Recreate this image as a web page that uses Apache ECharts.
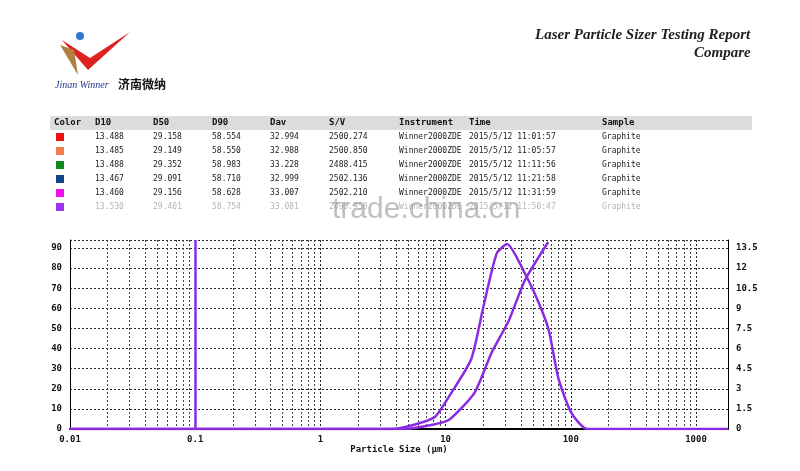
<!DOCTYPE html>
<html><head><meta charset="utf-8">
<script src="https://cdn.jsdelivr.net/npm/echarts@6/dist/echarts.min.js"></script>
<style>html,body{margin:0;background:#fff}#c{width:800px;height:471px}</style>
</head><body><div id="c"></div>
<script>
// table
var headers = ['Color', 'D10', 'D50', 'D90', 'Dav', 'S/V', 'Instrument', 'Time', 'Sample'];
var rowColors = ['#ee1111', '#f08050', '#118822', '#114488', '#ee11ee', '#9933ee'];
var d10 = ['13.488', '13.485', '13.488', '13.467', '13.460', '13.530'];
var d50 = ['29.158', '29.149', '29.352', '29.091', '29.156', '29.401'];
var d90 = ['58.554', '58.550', '58.983', '58.710', '58.628', '58.754'];
var dav = ['32.994', '32.988', '33.228', '32.999', '33.007', '33.081'];
var sv = ['2500.274', '2500.850', '2488.415', '2502.136', '2502.210', '2495.950'];
var times = ['2015/5/12 11:01:57', '2015/5/12 11:05:57', '2015/5/12 11:11:56', '2015/5/12 11:21:58', '2015/5/12 11:31:59', '2015/5/12 11:50:47'];

// curves: [size µm, value]
var distribution = [[0.01, 0], [3.7, 0], [5.5, 0.3], [8.2, 0.9], [10.6, 2.4], [16, 5.2], [20, 9.1], [25.6, 13.1], [31, 13.8], [43, 11.6], [55.5, 9.4], [66.5, 7.4], [80, 3.7], [101, 1.2], [135, 0], [1800, 0]];
var cumulative = [[0.01, 0], [4.5, 0], [7, 1.5], [10.6, 4.5], [17, 18], [23.3, 38], [32, 54], [43, 74], [66, 93]];
var xTicks = [0.01, 0.1, 1, 10, 100, 1000];

var colX = [54, 95, 153, 212, 270, 329, 399, 469, 602];
var g = [
  {type: 'rect', shape: {x: 50, y: 116, width: 702, height: 14}, style: {fill: '#dcdcdc'}},
  {type: 'text', left: 535, top: 28, style: {text: 'Laser Particle Sizer Testing Report', font: 'italic bold 15px "Liberation Serif"', fill: '#222'}},
  {type: 'text', left: 694, top: 46, style: {text: 'Compare', font: 'italic bold 15px "Liberation Serif"', fill: '#222'}},
  {type: 'polygon', shape: {points: [[62, 40], [88, 70], [130, 32], [90, 58]]}, style: {fill: '#dd2222'}},
  {type: 'polygon', shape: {points: [[60, 45], [78, 75], [74, 50]]}, style: {fill: '#b08040'}},
  {type: 'circle', shape: {cx: 80, cy: 36, r: 4}, style: {fill: '#3377cc'}},
  {type: 'text', left: 55, top: 80, style: {text: 'Jinan Winner', font: 'italic 10px "Liberation Serif"', fill: '#223388'}},
  {type: 'text', left: 118, top: 78, style: {text: '济南微纳', font: 'bold 12px "Noto Sans CJK SC"', fill: '#111'}},
  {type: 'text', left: 332, top: 195, z: 100, style: {text: 'trade.china.cn', font: '30px "Liberation Sans"', fill: 'rgba(150,150,150,0.6)'}}
];
headers.forEach(function (h, i) {
  g.push({type: 'text', left: colX[i], top: 118, style: {text: h, font: 'bold 9px "DejaVu Sans Mono"', fill: '#111'}});
});
for (var r = 0; r < 6; r++) {
  var y = 133 + r * 14;
  var op = r === 5 ? 0.35 : 1;
  g.push({type: 'rect', shape: {x: 56, y: y, width: 8, height: 8}, style: {fill: rowColors[r]}});
  [d10[r], d50[r], d90[r], dav[r], sv[r], 'Winner2000ZDE', times[r], 'Graphite'].forEach(function (t, i) {
    g.push({type: 'text', left: colX[i + 1], top: y, style: {text: t, font: '8px "DejaVu Sans Mono"', fill: '#222', opacity: op}});
  });
}

var chart = echarts.init(document.getElementById('c'));
var dash = {show: true, lineStyle: {color: '#222', type: [2, 2], width: 1}};
chart.setOption({
  animation: false,
  graphic: g,
  grid: {left: 70, right: 72, top: 240, bottom: 42},
  xAxis: {
    type: 'log', min: 0.01, max: 1800, logBase: 10,
    name: 'Particle Size (μm)', nameLocation: 'middle', nameGap: 16,
    nameTextStyle: {fontWeight: 'bold', fontSize: 9, fontFamily: 'DejaVu Sans Mono', color: '#111'},
    axisLine: {lineStyle: {color: '#000', width: 2}},
    axisTick: {show: false},
    axisLabel: {fontFamily: 'DejaVu Sans Mono', fontSize: 9, fontWeight: 'bold', color: '#111', margin: 6,
      formatter: function (v) { return xTicks.indexOf(+v.toPrecision(3)) >= 0 ? String(+v.toPrecision(3)) : ''; }},
    splitLine: dash,
    minorTick: {show: false, splitNumber: 9},
    minorSplitLine: {show: true, lineStyle: {color: '#444', type: [2, 2], width: 1}}
  },
  yAxis: [
    {type: 'value', min: 0, max: 94, interval: 10,
      axisLine: {show: true, lineStyle: {color: '#000'}}, axisTick: {show: false},
      axisLabel: {fontFamily: 'DejaVu Sans Mono', fontSize: 9, fontWeight: 'bold', color: '#111',
        formatter: function (v) { return v <= 90 ? v : ''; }},
      splitLine: dash},
    {type: 'value', min: 0, max: 14.1, interval: 1.5, position: 'right',
      axisLine: {show: true, lineStyle: {color: '#000'}}, axisTick: {show: false},
      axisLabel: {fontFamily: 'DejaVu Sans Mono', fontSize: 9, fontWeight: 'bold', color: '#111',
        formatter: function (v) { return v <= 13.5 ? v : ''; }},
      splitLine: {show: false}}
  ],
  series: [
    {type: 'line', yAxisIndex: 1, data: distribution, symbol: 'none', smooth: 0.2, lineStyle: {color: '#8a2be2', width: 2.5},
      markLine: {silent: true, symbol: 'none', label: {show: false}, lineStyle: {color: '#8a2be2', width: 2.5, type: 'solid'}, data: [{xAxis: 0.1}]}},
    {type: 'line', yAxisIndex: 0, data: cumulative, symbol: 'none', smooth: 0.2, lineStyle: {color: '#8a2be2', width: 2.5}}
  ]
});
</script></body></html>
